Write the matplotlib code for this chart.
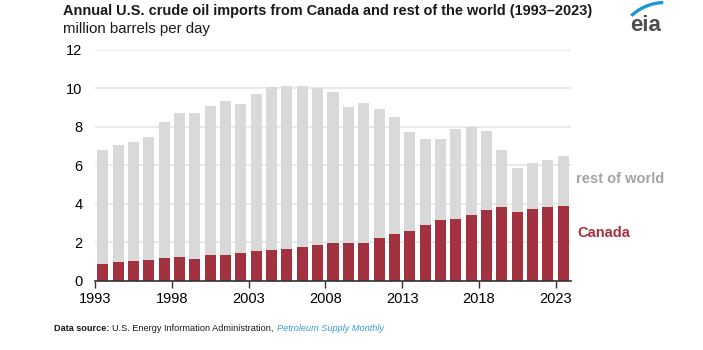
#!/usr/bin/env python3
# Annual U.S. crude oil imports from Canada and rest of the world (1993-2023)
import matplotlib
matplotlib.use("Agg")
import matplotlib.pyplot as plt
from matplotlib.patches import Arc

# Data (million barrels per day)
years = list(range(1993, 2024))
canada = [0.90, 0.99, 1.04, 1.08, 1.21, 1.27, 1.16, 1.37, 1.37, 1.44,
          1.54, 1.61, 1.65, 1.79, 1.89, 1.98, 1.96, 1.98, 2.22, 2.43,
          2.57, 2.90, 3.16, 3.22, 3.45, 3.71, 3.82, 3.59, 3.76, 3.82, 3.88]
total = [6.79, 7.05, 7.24, 7.50, 8.23, 8.70, 8.73, 9.08, 9.34, 9.17,
         9.69, 10.09, 10.14, 10.12, 10.00, 9.79, 9.01, 9.22, 8.92, 8.53,
         7.73, 7.35, 7.36, 7.87, 8.01, 7.78, 6.79, 5.87, 6.12, 6.29, 6.48]
rest_of_world = [t - c for t, c in zip(total, canada)]
tick_years = [1993, 1998, 2003, 2008, 2013, 2018, 2023]
y_ticks = [0, 2, 4, 6, 8, 10, 12]

CANADA_RED = "#a33241"
ROW_GRAY = "#d9d9d9"
LABEL_GRAY = "#a5a5a5"

plt.rcParams['font.family'] = ['Liberation Sans', 'DejaVu Sans']

fig = plt.figure(figsize=(7.03, 3.5), dpi=100)
ax = fig.add_axes([95 / 703, 1 - 281 / 350, 476 / 703, (281 - 49.8) / 350])

x = list(range(len(years)))
ax.bar(x, canada, width=0.72, color=CANADA_RED, zorder=3)
ax.bar(x, rest_of_world, bottom=canada, width=0.72, color=ROW_GRAY, zorder=3)

ax.set_xlim(-0.5, len(years) - 0.5)
ax.set_ylim(0, 12)
ax.set_yticks(y_ticks)
ax.set_yticklabels([str(v) for v in y_ticks], fontsize=10.5)
ax.set_xticks([years.index(y) - 0.5 for y in tick_years])
ax.set_xticklabels([str(y) for y in tick_years], fontsize=10.5)
ax.tick_params(axis='y', length=0, pad=9)
ax.tick_params(axis='x', length=5, width=1, color='#333333', pad=3)
ax.grid(axis='y', color='#e6e6e6', linewidth=1.2, zorder=0)
for side in ['top', 'right', 'left']:
    ax.spines[side].set_visible(False)
ax.spines['bottom'].set_color('#333333')
ax.spines['bottom'].set_linewidth(1.2)
ax.spines['bottom'].set_zorder(4)

# series labels at the right end
ax.text(len(years) - 0.2, 5.3, "rest of world", color=LABEL_GRAY, fontsize=10.5,
        fontweight='bold', va='center', ha='left')
ax.text(len(years) - 0.1, 2.5, "Canada", color=CANADA_RED, fontsize=10.5,
        fontweight='bold', va='center', ha='left')

# title and units
fig.text(63 / 703, 1 - 15 / 350, "Annual U.S. crude oil imports from Canada and rest of the world (1993\u20132023)",
         fontsize=10.45, fontweight='bold', color='#1a1a1a', ha='left', va='baseline')
fig.text(63 / 703, 1 - 33 / 350, "million barrels per day", fontsize=10.8,
         color='#1a1a1a', ha='left', va='baseline')

# source line
src_y = 1 - 331 / 350
t1 = fig.text(54 / 703, src_y, "Data source:", fontsize=6.6, fontweight='bold',
              color='#1a1a1a', ha='left', va='baseline')
fig.canvas.draw()
bb = t1.get_window_extent()
t2 = fig.text(bb.x1 / 703 + 3 / 703, src_y, "U.S. Energy Information Administration,",
              fontsize=6.6, color='#1a1a1a', ha='left', va='baseline')
bb2 = t2.get_window_extent()
fig.text(bb2.x1 / 703 + 3 / 703, src_y, "Petroleum Supply Monthly", fontsize=6.6,
         style='italic', color='#3d9ad1', ha='left', va='baseline')

# eia logo: grey letters under a blue swoosh
fig.text(630 / 703, 1 - 31 / 350, "eia", fontsize=16, fontweight='bold',
         color='#4d4d4f', ha='left', va='baseline')
logo_ax = fig.add_axes([625 / 703, 1 - 35 / 350, 55 / 703, 35 / 350])
logo_ax.set_xlim(0, 55)
logo_ax.set_ylim(35, 0)
logo_ax.axis('off')
logo_ax.add_patch(Arc((40, 52), 99, 99, theta1=227, theta2=268,
                      color='#1d97d4', linewidth=2.4))

fig.savefig("out.png", dpi=100)
